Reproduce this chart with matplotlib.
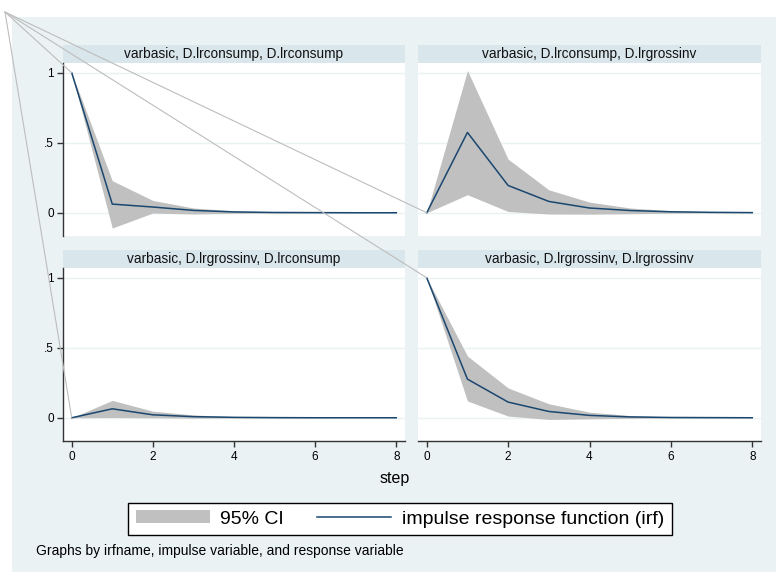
import numpy as np
from matplotlib import pyplot as plt
from matplotlib.patches import Patch, Rectangle, ConnectionPatch
from matplotlib.lines import Line2D

plt.rcParams["font.family"] = ["Liberation Sans", "DejaVu Sans"]

steps = [0, 1, 2, 3, 4, 5, 6, 7, 8]

titles = [
    "varbasic, D.lrconsump, D.lrconsump",
    "varbasic, D.lrconsump, D.lrgrossinv",
    "varbasic, D.lrgrossinv, D.lrconsump",
    "varbasic, D.lrgrossinv, D.lrgrossinv",
]

# impulse lrconsump -> response lrconsump
irf_cc = [1.0, 0.062, 0.041, 0.017, 0.006, 0.002, 0.001, 0.0, 0.0]
lo_cc = [1.0, -0.109, -0.002, -0.009, -0.004, -0.002, -0.001, 0.0, 0.0]
hi_cc = [1.0, 0.229, 0.088, 0.034, 0.014, 0.006, 0.002, 0.001, 0.0]

# impulse lrconsump -> response lrgrossinv
irf_cg = [0.0, 0.574, 0.195, 0.081, 0.034, 0.016, 0.007, 0.003, 0.001]
lo_cg = [0.0, 0.129, 0.009, -0.009, -0.010, -0.007, -0.003, -0.001, 0.0]
hi_cg = [0.0, 1.016, 0.383, 0.164, 0.076, 0.034, 0.015, 0.006, 0.003]

# impulse lrgrossinv -> response lrconsump
irf_gc = [0.0, 0.064, 0.021, 0.008, 0.003, 0.001, 0.0, 0.0, 0.0]
lo_gc = [0.0, 0.002, 0.0, -0.003, -0.002, -0.001, 0.0, 0.0, 0.0]
hi_gc = [0.0, 0.124, 0.047, 0.020, 0.008, 0.003, 0.001, 0.0, 0.0]

# impulse lrgrossinv -> response lrgrossinv
irf_gg = [1.0, 0.276, 0.112, 0.045, 0.017, 0.006, 0.002, 0.001, 0.0]
lo_gg = [1.0, 0.120, 0.012, -0.012, -0.008, -0.004, -0.002, -0.001, 0.0]
hi_gg = [1.0, 0.441, 0.213, 0.100, 0.040, 0.016, 0.006, 0.002, 0.001]

yticks = [0, 0.5, 1]
ytick_labels = ["0", ".5", "1"]
xticks = [0, 2, 4, 6, 8]

bg_color = "#EAF2F3"
strip_color = "#D9E6EB"
ci_color = "#C0C0C0"
irf_color = "#1A476F"
axis_color = "#333333"

W, H = 776, 572


def px_box(left, top, right, bottom):
    return [left / W, 1 - bottom / H, (right - left) / W, (bottom - top) / H]


def main():
    fig = plt.figure(figsize=(W / 100, H / 100), dpi=100)
    fig.patch.set_facecolor("white")
    fig.add_artist(
        Rectangle((12 / W, 0), 1 - 12 / W, 1 - 17 / H, transform=fig.transFigure,
                  facecolor=bg_color, edgecolor="none", zorder=-5)
    )

    boxes = [
        px_box(63, 63, 405, 236),
        px_box(418, 63, 761, 236),
        px_box(63, 268, 405, 441),
        px_box(418, 268, 761, 441),
    ]
    series = [
        (irf_cc, lo_cc, hi_cc),
        (irf_cg, lo_cg, hi_cg),
        (irf_gc, lo_gc, hi_gc),
        (irf_gg, lo_gg, hi_gg),
    ]

    for i, (box, (irf, lo, hi)) in enumerate(zip(boxes, series)):
        ax = fig.add_axes(box)
        ax.set_facecolor("white")
        ax.fill_between(steps, lo, hi, color=ci_color, linewidth=0, zorder=2)
        ax.plot(steps, irf, color=irf_color, linewidth=1.1, zorder=3)
        ax.set_xlim(-0.215, 8.215)
        ax.set_ylim(-0.166, 1.07)
        ax.set_yticks(yticks)
        ax.set_yticklabels(ytick_labels)
        ax.set_xticks(xticks)
        ax.yaxis.grid(True, color=bg_color, linewidth=1.0, zorder=0)
        ax.set_axisbelow(True)

        left_col = i in (0, 2)
        bottom_row = i in (2, 3)
        for side in ("top", "right"):
            ax.spines[side].set_visible(False)
        ax.spines["left"].set_visible(left_col)
        ax.spines["bottom"].set_visible(bottom_row)
        for side in ("left", "bottom"):
            ax.spines[side].set_color(axis_color)
            ax.spines[side].set_linewidth(1.0)
        ax.tick_params(axis="y", left=left_col, labelleft=left_col, length=4.5,
                       width=1.0, color=axis_color, pad=2, labelsize=8.5)
        ax.tick_params(axis="x", bottom=bottom_row, labelbottom=bottom_row,
                       length=4.5, width=1.0, color=axis_color, pad=3, labelsize=8.5)

        # panel title strip
        strip_h = 18.5 / 173
        ax.add_patch(Rectangle((0, 1), 1, strip_h, transform=ax.transAxes,
                               facecolor=strip_color, edgecolor="none", clip_on=False))
        ax.text(0.5, 1 + strip_h / 2, titles[i], transform=ax.transAxes,
                ha="center", va="center", fontsize=9.8, color="#111111")

        # stray connector from the graph corner to the first point
        con = ConnectionPatch(xyA=(5 / W, 1 - 12 / H), coordsA="figure fraction",
                              xyB=(steps[0], irf[0]), coordsB=ax.transData,
                              color="#BDBDBD", linewidth=0.8, zorder=5)
        fig.add_artist(con)

    fig.text(395 / W, 1 - 479 / H, "step", ha="center", va="center", fontsize=11.5)

    handles = [
        Patch(facecolor=ci_color, edgecolor="none"),
        Line2D([], [], color=irf_color, linewidth=1.1),
    ]
    leg = fig.legend(handles, ["95% CI", "impulse response function (irf)"],
                     loc="center", bbox_to_anchor=(400 / W, 1 - 519 / H), ncol=2,
                     fontsize=14, frameon=True, fancybox=False, framealpha=1,
                     edgecolor="black", handlelength=3.8, handleheight=0.62,
                     handletextpad=0.55, columnspacing=1.7, borderpad=0.38,
                     borderaxespad=0)
    leg.get_frame().set_linewidth(1.0)

    fig.text(36 / W, 1 - 551 / H,
             "Graphs by irfname, impulse variable, and response variable",
             ha="left", va="center", fontsize=10)

    fig.savefig("out.png", dpi=100, facecolor=fig.get_facecolor())


if __name__ == "__main__":
    main()
